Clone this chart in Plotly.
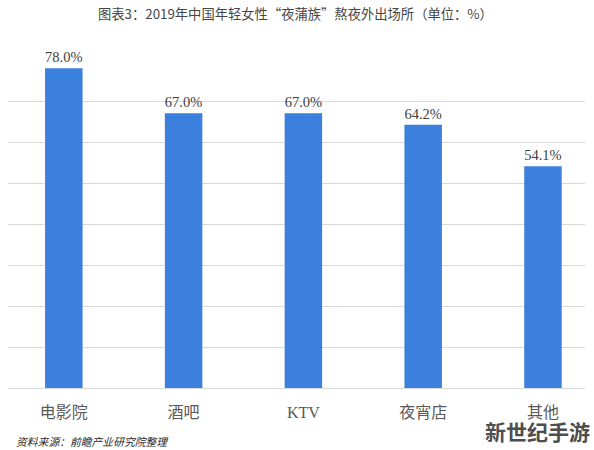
import plotly.graph_objects as go

# chart data
places = ["电影院", "酒吧", "KTV", "夜宵店", "其他"]
share = [78.0, 67.0, 67.0, 64.2, 54.1]
labels = ["78.0%", "67.0%", "67.0%", "64.2%", "54.1%"]

title_text = "图表3：2019年中国年轻女性“夜蒲族”熬夜外出场所（单位：%）"
source_text = "资料来源：前瞻产业研究院整理"
mark_text = "新世纪手游"

fig = go.Figure()
fig.add_trace(go.Bar(
    x=places,
    y=share,
    text=labels,
    textposition="outside",
    cliponaxis=False,
    width=0.313,
    marker=dict(color="#3b80dc", line=dict(width=0)),
    textfont=dict(family="Liberation Serif", size=15, color="#404040"),
))

fig.update_layout(
    width=594,
    height=450,
    paper_bgcolor="white",
    plot_bgcolor="white",
    showlegend=False,
    margin=dict(l=8, r=9, t=60, b=62),
    title=dict(
        text=title_text,
        x=0.4974, xanchor="center",
        y=0.969, yanchor="middle",
        font=dict(family="Noto Sans CJK SC", size=13.3, color="#454545"),
    ),
    xaxis=dict(
        type="category",
        range=[-0.466, 4.351],
        showgrid=False,
        showline=False,
        ticks="",
        ticklabelstandoff=13,
        tickfont=dict(family="Liberation Serif, Noto Sans CJK SC", size=16, color="#595959"),
    ),
    yaxis=dict(
        range=[0, 80],
        dtick=10,
        showgrid=True,
        gridcolor="#d9d9d9",
        gridwidth=1,
        zeroline=True,
        zerolinecolor="#d9d9d9",
        zerolinewidth=1,
        showticklabels=False,
        ticks="",
    ),
)

# source note, bottom left
fig.add_annotation(
    text=source_text,
    xref="paper", yref="paper",
    x=0.01, y=-0.161,
    xanchor="left", yanchor="middle",
    showarrow=False,
    font=dict(family="Noto Sans CJK SC", size=10.8, color="#2b2b2b", style="italic"),
)

# site watermark, bottom right
fig.add_annotation(
    text="<b>" + mark_text + "</b>",
    xref="paper", yref="paper",
    x=0.917, y=-0.132,
    xanchor="center", yanchor="middle",
    showarrow=False,
    font=dict(family="Noto Sans CJK SC", size=21, color="#4d4d4d",
              shadow="1px 1px 0 white, -1px -1px 0 white, 1px -1px 0 white, -1px 1px 0 white"),
)

# page body has an 8px default margin, drop it so the figure fills the window
fig.write_html("out.html", config={"displayModeBar": False},
               post_script="document.body.style.margin = '0';")
